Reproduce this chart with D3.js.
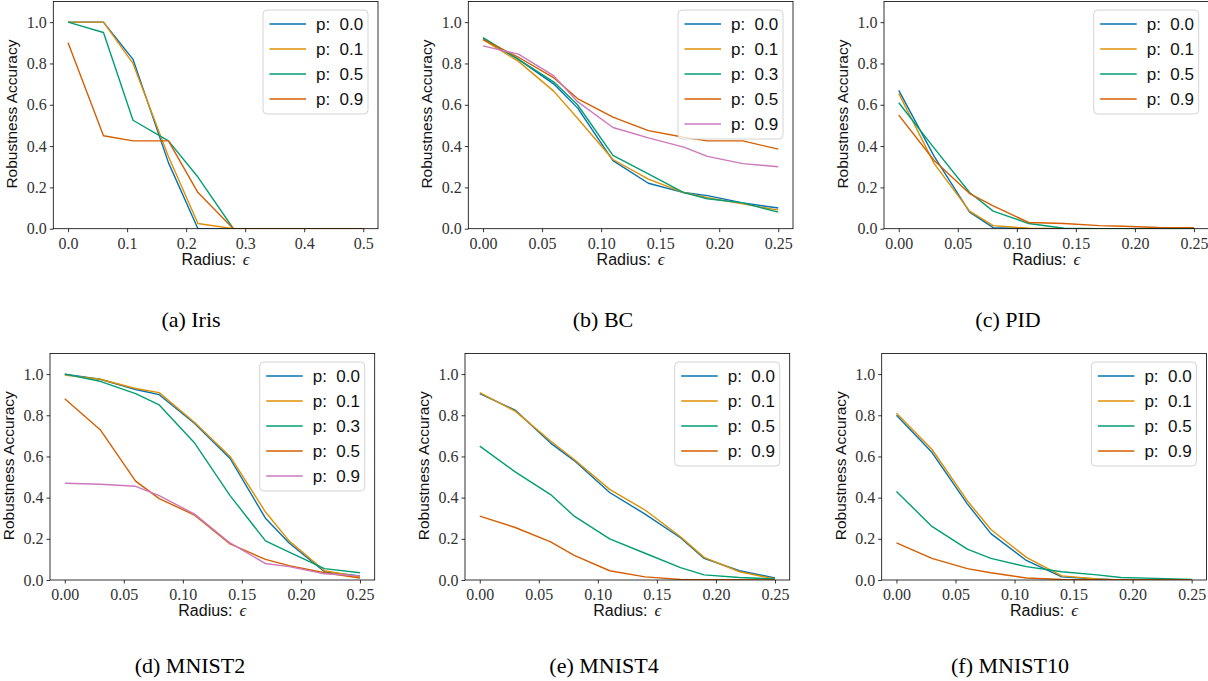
<!DOCTYPE html>
<html>
<head>
<meta charset="utf-8">
<script src="https://cdn.jsdelivr.net/npm/d3@7"></script>
<style>
  html, body { margin: 0; padding: 0; background: #fff; }
  svg { display: block; }
  .tick text { font-family: "Liberation Serif", "Times New Roman", serif !important; font-size: 16px !important; }
</style>
</head>
<body>
<svg id="chart" width="1208" height="681"></svg>
<script>
// ---------------- DATA ----------------
const xIris = [0, 0.06, 0.11, 0.17, 0.22, 0.28, 0.33, 0.39, 0.44, 0.5];
const xOther = [0, 0.03, 0.06, 0.08, 0.11, 0.14, 0.17, 0.19, 0.22, 0.25];

const irisLabels = ["0.0", "0.1", "0.5", "0.9"];
const irisP00 = [1.0, 1.0, 0.82, 0.32, 0, 0, 0, 0, 0, 0];
const irisP01 = [1.0, 1.0, 0.80, 0.35, 0.025, 0, 0, 0, 0, 0];
const irisP05 = [1.0, 0.95, 0.525, 0.425, 0.25, 0, 0, 0, 0, 0];
const irisP09 = [0.9, 0.45, 0.425, 0.425, 0.175, 0, 0, 0, 0, 0];

const bcLabels = ["0.0", "0.1", "0.3", "0.5", "0.9"];
const bcP00 = [0.92, 0.82, 0.70, 0.585, 0.33, 0.22, 0.175, 0.16, 0.125, 0.10];
const bcP01 = [0.915, 0.81, 0.665, 0.535, 0.335, 0.24, 0.175, 0.15, 0.12, 0.09];
const bcP03 = [0.925, 0.82, 0.71, 0.60, 0.355, 0.265, 0.175, 0.145, 0.125, 0.08];
const bcP05 = [0.915, 0.83, 0.73, 0.63, 0.54, 0.475, 0.443, 0.425, 0.425, 0.385];
const bcP09 = [0.885, 0.845, 0.74, 0.615, 0.49, 0.44, 0.395, 0.35, 0.315, 0.30];

const pidLabels = ["0.0", "0.1", "0.5", "0.9"];
const pidP00 = [0.67, 0.35, 0.08, 0.005, 0, 0, 0, 0, 0, 0];
const pidP01 = [0.655, 0.315, 0.085, 0.015, 0.002, 0, 0, 0, 0, 0];
const pidP05 = [0.61, 0.39, 0.175, 0.085, 0.025, 0.002, 0, 0, 0, 0];
const pidP09 = [0.55, 0.33, 0.17, 0.11, 0.03, 0.025, 0.015, 0.012, 0.006, 0.005];

const m2Labels = ["0.0", "0.1", "0.3", "0.5", "0.9"];
const m2P00 = [1.0, 0.975, 0.925, 0.90, 0.76, 0.59, 0.30, 0.18, 0.04, 0.02];
const m2P01 = [0.995, 0.975, 0.93, 0.91, 0.765, 0.60, 0.33, 0.19, 0.045, 0.015];
const m2P03 = [1.0, 0.965, 0.905, 0.85, 0.665, 0.41, 0.19, 0.135, 0.055, 0.035];
const m2P05 = [0.88, 0.73, 0.48, 0.395, 0.315, 0.175, 0.10, 0.07, 0.035, 0.01];
const m2P09 = [0.47, 0.465, 0.455, 0.41, 0.32, 0.18, 0.08, 0.065, 0.03, 0.02];

const m4Labels = ["0.0", "0.1", "0.5", "0.9"];
const m4P00 = [0.905, 0.825, 0.665, 0.58, 0.425, 0.32, 0.205, 0.105, 0.045, 0.01];
const m4P01 = [0.91, 0.82, 0.675, 0.585, 0.44, 0.34, 0.21, 0.11, 0.04, 0.005];
const m4P05 = [0.65, 0.525, 0.415, 0.31, 0.20, 0.13, 0.06, 0.025, 0.012, 0.005];
const m4P09 = [0.31, 0.255, 0.185, 0.12, 0.045, 0.015, 0.003, 0.002, 0.001, 0];

const m10Labels = ["0.0", "0.1", "0.5", "0.9"];
const m10P00 = [0.80, 0.62, 0.37, 0.225, 0.095, 0.015, 0.005, 0, 0, 0];
const m10P01 = [0.81, 0.635, 0.385, 0.245, 0.11, 0.02, 0.005, 0, 0, 0];
const m10P05 = [0.43, 0.26, 0.15, 0.105, 0.065, 0.04, 0.025, 0.012, 0.008, 0.003];
const m10P09 = [0.18, 0.105, 0.055, 0.035, 0.01, 0.003, 0.002, 0.001, 0, 0];

const ticksIrisX = [0, 0.1, 0.2, 0.3, 0.4, 0.5];
const ticksOtherX = [0, 0.05, 0.10, 0.15, 0.20, 0.25];
const ticksY = [0, 0.2, 0.4, 0.6, 0.8, 1.0];

const captions = ["(a) Iris", "(b) BC", "(c) PID", "(d) MNIST2", "(e) MNIST4", "(f) MNIST10"];
const palette = ["#0173b2", "#de8f05", "#029e73", "#d55e00", "#cc78bc"];

// ---------------- LAYOUT ----------------
const panels = [
  { x: xIris, series: [irisP00, irisP01, irisP05, irisP09], labels: irisLabels, xmax: 0.5, xticks: ticksIrisX, fmt: ".1f",
    left: 53.3, top: 1.5, bottom: 228.7, capX: 191, capY: 327 },
  { x: xOther, series: [bcP00, bcP01, bcP03, bcP05, bcP09], labels: bcLabels, xmax: 0.25, xticks: ticksOtherX, fmt: ".2f",
    left: 468.3, top: 1.5, bottom: 228.7, capX: 603, capY: 327 },
  { x: xOther, series: [pidP00, pidP01, pidP05, pidP09], labels: pidLabels, xmax: 0.25, xticks: ticksOtherX, fmt: ".2f",
    left: 884, top: 1.5, bottom: 228.7, capX: 1008, capY: 327 },
  { x: xOther, series: [m2P00, m2P01, m2P03, m2P05, m2P09], labels: m2Labels, xmax: 0.25, xticks: ticksOtherX, fmt: ".2f",
    left: 50, top: 353.5, bottom: 580, capX: 190, capY: 673 },
  { x: xOther, series: [m4P00, m4P01, m4P05, m4P09], labels: m4Labels, xmax: 0.25, xticks: ticksOtherX, fmt: ".2f",
    left: 465, top: 353.5, bottom: 580, capX: 604, capY: 673 },
  { x: xOther, series: [m10P00, m10P01, m10P05, m10P09], labels: m10Labels, xmax: 0.25, xticks: ticksOtherX, fmt: ".2f",
    left: 881.7, top: 353.5, bottom: 580, capX: 1010, capY: 673 }
];
const axW = 324.7;

const svg = d3.select("#chart");
const serif = "Liberation Serif, Times New Roman, serif";
const sans = "Liberation Sans, Arial, sans-serif";

panels.forEach((p, i) => {
  const margin = p.xmax * 0.05;
  const x = d3.scaleLinear().domain([-margin, p.xmax + margin]).range([p.left, p.left + axW]);
  const y = d3.scaleLinear().domain([0, 1.1]).range([p.bottom, p.top]);
  const g = svg.append("g");

  const clipId = "clip" + i;
  svg.append("clipPath").attr("id", clipId).append("rect")
    .attr("x", p.left).attr("y", p.top).attr("width", axW).attr("height", p.bottom - p.top);

  const line = d3.line().x((d, k) => x(p.x[k])).y(d => y(d));
  p.series.forEach((s, k) => {
    g.append("path").datum(s)
      .attr("d", line)
      .attr("fill", "none")
      .attr("stroke", palette[k])
      .attr("stroke-width", 1.4)
      .attr("stroke-linejoin", "round")
      .attr("clip-path", `url(#${clipId})`);
  });

  // axes
  const xAxis = d3.axisBottom(x).tickValues(p.xticks).tickFormat(d3.format(p.fmt)).tickSize(3.5).tickPadding(3);
  const yAxis = d3.axisLeft(y).tickValues(ticksY).tickFormat(d3.format(".1f")).tickSize(3.5).tickPadding(3);
  const gx = g.append("g").attr("transform", `translate(0,${p.bottom})`).call(xAxis);
  const gy = g.append("g").attr("transform", `translate(${p.left},0)`).call(yAxis);
  [gx, gy].forEach(a => {
    a.attr("font-family", serif).attr("font-size", 16);
    a.select(".domain").remove();
    a.selectAll(".tick line").attr("stroke", "#000").attr("stroke-width", 0.8);
    a.selectAll(".tick text").attr("fill", "#333").attr("font-family", serif).attr("font-size", 16);
  });
  gx.selectAll(".tick text").attr("dy", "0.85em");

  // frame
  g.append("rect").attr("x", p.left).attr("y", p.top).attr("width", axW).attr("height", p.bottom - p.top)
    .attr("fill", "none").attr("stroke", "#000").attr("stroke-width", 0.8);

  // axis labels
  const xl = g.append("text").attr("x", p.left + axW / 2).attr("y", p.bottom + 36)
    .attr("text-anchor", "middle").attr("font-family", sans).attr("font-size", 16).attr("fill", "#111");
  xl.append("tspan").text("Radius:");
  xl.append("tspan").attr("dx", 7).attr("font-family", serif).attr("font-style", "italic").attr("font-size", 17).text("ϵ");
  g.append("text")
    .attr("transform", `translate(${p.left - 36},${(p.top + p.bottom) / 2 - 1}) rotate(-90)`)
    .attr("text-anchor", "middle").attr("font-family", sans).attr("font-size", 15.5).attr("fill", "#111")
    .text("Robustness Accuracy");

  // legend
  const n = p.series.length;
  const lw = 105, lh = 104 + (n - 4) * 25;
  const lx = p.left + axW - 10 - lw, ly = p.top + 8.5;
  const lg = g.append("g");
  lg.append("rect").attr("x", lx).attr("y", ly).attr("width", lw).attr("height", lh)
    .attr("rx", 4).attr("fill", "#fff").attr("fill-opacity", 0.8).attr("stroke", "#d4d4d4").attr("stroke-width", 1);
  p.labels.forEach((lab, k) => {
    const yy = ly + 14 + k * 25;
    lg.append("line").attr("x1", lx + 6.5).attr("x2", lx + 43).attr("y1", yy).attr("y2", yy)
      .attr("stroke", palette[k]).attr("stroke-width", 1.4);
    lg.append("text").attr("x", lx + 53).attr("y", yy + 6)
      .attr("font-family", sans).attr("font-size", 17).attr("fill", "#111")
      .style("white-space", "pre")
      .text("p:  " + lab);
  });

  // caption
  svg.append("text").attr("x", p.capX).attr("y", p.capY).attr("text-anchor", "middle")
    .attr("font-family", serif).attr("font-size", 22).attr("fill", "#000")
    .text(captions[i]);
});
</script>
</body>
</html>
